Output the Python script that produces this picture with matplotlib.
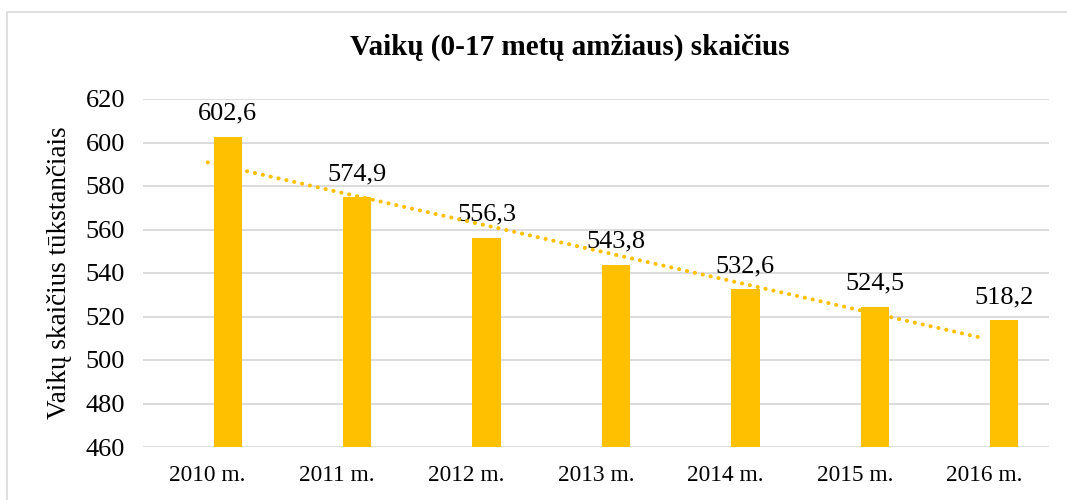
import numpy as np
import matplotlib.pyplot as plt
from matplotlib.patches import Rectangle

years = ["2010 m.", "2011 m.", "2012 m.", "2013 m.", "2014 m.", "2015 m.", "2016 m."]
values = [602.6, 574.9, 556.3, 543.8, 532.6, 524.5, 518.2]
labels = ["602,6", "574,9", "556,3", "543,8", "532,6", "524,5", "518,2"]
yticks = [460, 480, 500, 520, 540, 560, 580, 600, 620]

plt.rcParams["font.family"] = ["Liberation Serif", "DejaVu Serif"]
gold = "#FFC000"

fig = plt.figure(figsize=(10.67, 5.0), dpi=100)
ax = fig.add_axes([0.134, 0.106, 0.849, 0.696])

x = np.arange(len(years))
offset = 0.155
ax.bar(x + offset, values, width=0.22, color=gold, zorder=3)

# linear trendline at category centres
k, b = np.polyfit(x, values, 1)
ax.plot(x, k * x + b, color=gold, linestyle=(0, (0.05, 1.95)), linewidth=2.9,
        dash_capstyle="round", zorder=4)

for xi, v, lab in zip(x, values, labels):
    ax.text(xi + offset, v + 5.5, lab, ha="center", va="bottom", fontsize=19)

ax.set_xlim(-0.5, len(years) - 0.5)
ax.set_ylim(460, 620)
ax.set_yticks(yticks)
ax.set_xticks(x)
ax.set_xticklabels(years)
ax.tick_params(axis="x", labelsize=16.8, length=0, pad=13)
ax.tick_params(axis="y", labelsize=19, length=0, pad=13)
ax.yaxis.grid(True, color="#D9D9D9", linewidth=1.3, zorder=0)
for s in ax.spines.values():
    s.set_visible(False)

ax.set_ylabel("Vaikų skaičius tūkstančiais", fontsize=19.5, labelpad=10)
fig.text(0.534, 0.905, "Vaikų (0-17 metų amžiaus) skaičius", ha="center",
         va="center", fontsize=21, fontweight="bold")

fig.patches.append(Rectangle((0.007, -0.05), 1.1, 1.026, transform=fig.transFigure,
                             fill=False, edgecolor="#D9D9D9", linewidth=1.2))

fig.savefig("out.png", dpi=100)
